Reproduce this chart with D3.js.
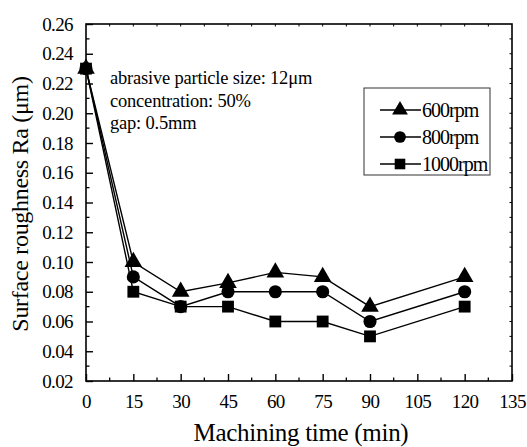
<!DOCTYPE html>
<html>
<head>
<meta charset="utf-8">
<script src="https://cdn.jsdelivr.net/npm/d3@7"></script>
<style>
  body { margin: 0; background: #fff; }
</style>
</head>
<body>
<svg id="chart" width="527" height="447"></svg>
<script>
var times = [0, 15, 30, 45, 60, 75, 90, 120];
var rpm600 = [0.23, 0.100, 0.080, 0.086, 0.093, 0.090, 0.070, 0.090];
var rpm800 = [0.23, 0.090, 0.070, 0.080, 0.080, 0.080, 0.060, 0.080];
var rpm1000 = [0.23, 0.080, 0.070, 0.070, 0.060, 0.060, 0.050, 0.070];
var seriesNames = ["600rpm", "800rpm", "1000rpm"];
var xTicks = [0, 15, 30, 45, 60, 75, 90, 105, 120, 135];
var yTicks = [0.02, 0.04, 0.06, 0.08, 0.10, 0.12, 0.14, 0.16, 0.18, 0.20, 0.22, 0.24, 0.26];
var notes = ["abrasive particle size: 12\u03bcm", "concentration: 50%", "gap: 0.5mm"];

var serif = "'Liberation Serif', 'Times New Roman', serif";

var svg = d3.select("#chart");
var margin = {top: 24, right: 15, bottom: 66, left: 86};
var width = 527 - margin.left - margin.right,
    height = 447 - margin.top - margin.bottom;

var g = svg.append("g").attr("transform", "translate(" + margin.left + "," + margin.top + ")");

var x = d3.scaleLinear().domain([0, 135]).range([0, width]);
var y = d3.scaleLinear().domain([0.02, 0.26]).range([height, 0]);

// minor ticks
var xMinor = d3.range(7.5, 135, 15);
var yMinor = d3.range(0.03, 0.26, 0.02);

g.append("g").selectAll("line").data(xMinor).enter().append("line")
  .attr("x1", function(d){ return x(d); }).attr("x2", function(d){ return x(d); })
  .attr("y1", height).attr("y2", height - 3.5)
  .attr("stroke", "#000").attr("stroke-width", 1.3);
g.append("g").selectAll("line").data(yMinor).enter().append("line")
  .attr("y1", function(d){ return y(d); }).attr("y2", function(d){ return y(d); })
  .attr("x1", 0).attr("x2", 3.5)
  .attr("stroke", "#000").attr("stroke-width", 1.3);
// top and right small ticks
g.append("g").selectAll("line").data(d3.range(7.5, 135, 7.5)).enter().append("line")
  .attr("x1", function(d){ return x(d); }).attr("x2", function(d){ return x(d); })
  .attr("y1", 0).attr("y2", 2.5)
  .attr("stroke", "#000").attr("stroke-width", 1);
g.append("g").selectAll("line").data(d3.range(0.03, 0.26, 0.01)).enter().append("line")
  .attr("y1", function(d){ return y(d); }).attr("y2", function(d){ return y(d); })
  .attr("x1", width).attr("x2", width - 2.5)
  .attr("stroke", "#000").attr("stroke-width", 1);

// axes
var xAxis = g.append("g")
  .attr("transform", "translate(0," + height + ")")
  .call(d3.axisBottom(x).tickValues(xTicks).tickSizeInner(-7).tickSizeOuter(0).tickPadding(14));
var yAxis = g.append("g")
  .call(d3.axisLeft(y).tickValues(yTicks).tickFormat(d3.format(".2f")).tickSizeInner(-7).tickSizeOuter(0).tickPadding(13));

[xAxis, yAxis].forEach(function(a){
  a.attr("font-family", null).attr("font-size", null);
  a.select(".domain").remove();
  a.selectAll(".tick line").attr("stroke", "#000").attr("stroke-width", 1.4);
  a.selectAll(".tick text").style("font-family", serif).style("font-size", "19px")
    .style("letter-spacing", "-0.6px").attr("fill", "#000");
});

// frame
g.append("rect").attr("x", 0).attr("y", 0).attr("width", width).attr("height", height)
  .attr("fill", "none").attr("stroke", "#000").attr("stroke-width", 1.6);

var series = [rpm600, rpm800, rpm1000];
var shapes = [d3.symbolTriangle, d3.symbolCircle, d3.symbolSquare];
var sizes = [135, 135, 140];

var line = d3.line()
  .x(function(d, i){ return x(times[i]); })
  .y(function(d){ return y(d); });

series.forEach(function(s, k){
  g.append("path").datum(s).attr("d", line)
    .attr("fill", "none").attr("stroke", "#000").attr("stroke-width", 1.4);
});
series.forEach(function(s, k){
  g.append("g").selectAll("path").data(s).enter().append("path")
    .attr("transform", function(d, i){ return "translate(" + x(times[i]) + "," + y(d) + ")"; })
    .attr("d", d3.symbol().type(shapes[k]).size(sizes[k]))
    .attr("fill", "#000");
});

// notes
g.selectAll(".note").data(notes).enter().append("text")
  .attr("class", "note")
  .attr("x", 24)
  .attr("y", function(d, i){ return 60 + i * 22.5; })
  .style("font-family", serif)
  .style("font-size", "18.5px")
  .style("letter-spacing", "-0.2px")
  .text(function(d){ return d; });

// legend
var leg = svg.append("g").attr("transform", "translate(364,88)");
leg.append("rect").attr("width", 126).attr("height", 87)
  .attr("fill", "#fff").attr("stroke", "#333").attr("stroke-width", 1);
seriesNames.forEach(function(n, k){
  var cy = 22 + k * 27;
  leg.append("line").attr("x1", 16).attr("x2", 57).attr("y1", cy).attr("y2", cy)
    .attr("stroke", "#000").attr("stroke-width", 1.4);
  leg.append("path").attr("transform", "translate(36," + cy + ")")
    .attr("d", d3.symbol().type(shapes[k]).size(sizes[k] * 0.8)).attr("fill", "#000");
  leg.append("text").attr("x", 58).attr("y", cy + 7)
    .style("font-family", serif).style("font-size", "20px")
    .style("letter-spacing", "-1px").text(n);
});

// axis titles
svg.append("text").attr("x", 301).attr("y", 441)
  .attr("text-anchor", "middle").style("font-family", serif).style("font-size", "25px")
  .style("letter-spacing", "-0.3px").text("Machining time (min)");
svg.append("text").attr("transform", "translate(28,204) rotate(-90)")
  .attr("text-anchor", "middle").style("font-family", serif).style("font-size", "24px")
  .style("letter-spacing", "-0.3px").text("Surface roughness Ra (\u03bcm)");
</script>
</body>
</html>
